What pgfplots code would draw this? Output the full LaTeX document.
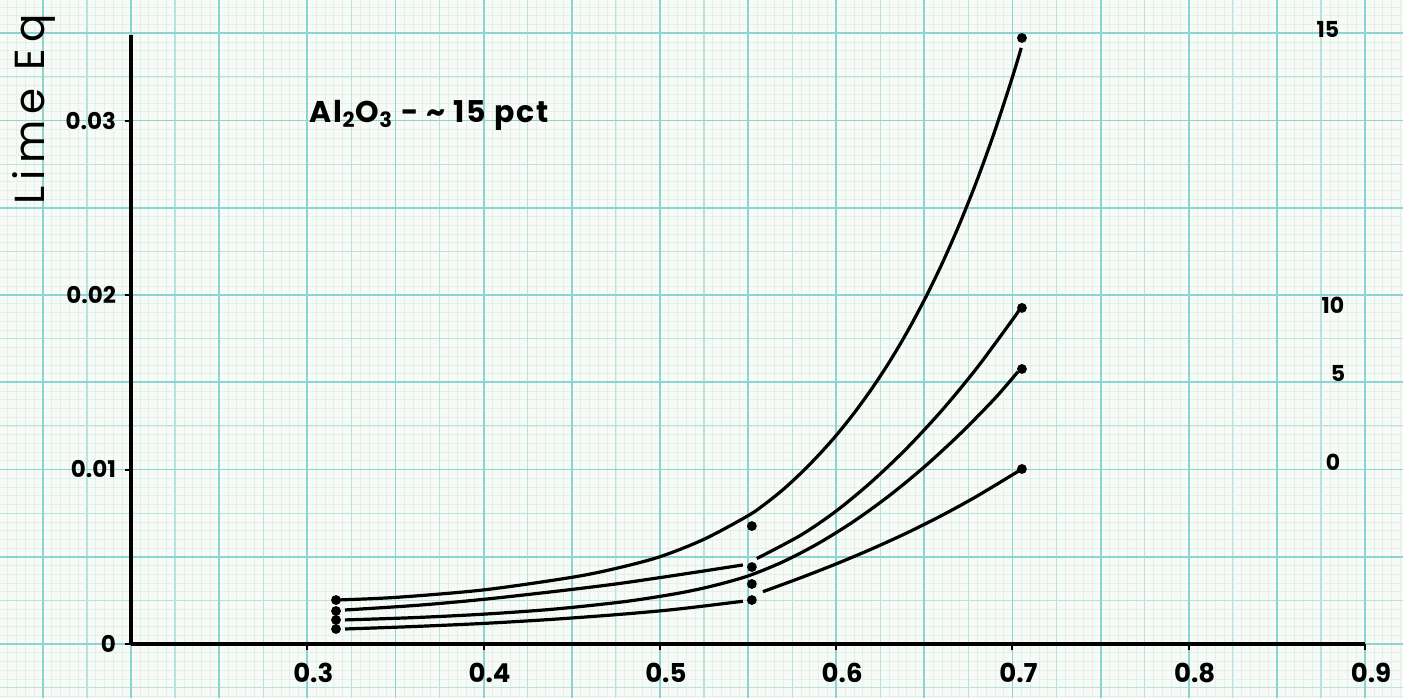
\documentclass[border=0pt]{standalone}
\usepackage{fontspec}
\setmainfont{Poppins}
\usepackage{pgfplots}
\pgfplotsset{compat=1.18}
\definecolor{paper}{RGB}{248,251,245}
\definecolor{gridA}{RGB}{140,212,212}
\definecolor{gridB}{RGB}{182,227,225}
\definecolor{gridC}{RGB}{224,240,236}
\begin{document}
\begin{tikzpicture}
\path[use as bounding box] (-65.5pt,-27pt) rectangle (636pt,322pt);
\clip (-65.5pt,-27pt) rectangle (636pt,322pt);
\fill[paper] (-65.5pt,-27pt) rectangle (636pt,322pt);
\draw[gridC, line width=0.3pt, xstep=4.4075pt, ystep=4.3625pt] (-65.5pt,-27pt) grid (636pt,322pt);
\draw[gridB, line width=0.6pt, xstep=22.0375pt, ystep=21.8125pt] (-65.5pt,-27pt) grid (636pt,322pt);
\draw[gridA, line width=0.9pt, xstep=44.075pt, ystep=43.625pt] (-65.5pt,-27pt) grid (636pt,322pt);
\begin{axis}[
  at={(0,0)}, anchor=south west,
  scale only axis, width=617pt, height=304.5pt,
  xmin=0.2, xmax=0.9, ymin=0, ymax=0.0349,
  axis lines*=left,
  axis line style={line width=1.8pt, black},
  xtick={0.3,0.4,0.5,0.6,0.7,0.8,0.9},
  xticklabels={0.3,0.4,0.5,0.6,0.7,0.8,0.9},
  ytick={0,0.01,0.02,0.03},
  yticklabels={0,0.01,0.02,0.03},
  scaled ticks=false,
  tick align=outside, major tick length=3pt,
  tick style={black, line width=1pt},
  yticklabel style={font=\bfseries\fontsize{11.5}{13}\selectfont, xshift=-1pt},
  xticklabel style={font=\bfseries\fontsize{13}{15}\selectfont, yshift=-3pt, xshift=3pt},
  clip=false,
  every axis plot/.append style={line width=1.6pt},
]
% 15 pct curve
\addplot[black, smooth] coordinates {
 (0.3163,0.00252) (0.35,0.00267) (0.40,0.00310) (0.45,0.00382) (0.475,0.00433)
 (0.50,0.00500) (0.525,0.00600) (0.55,0.00735) (0.56,0.00805) (0.57,0.00886)
 (0.58,0.00979) (0.59,0.01082) (0.60,0.01195) (0.61,0.01321) (0.62,0.01460)
 (0.63,0.01613) (0.64,0.01783) (0.65,0.01971) (0.66,0.02178) (0.67,0.02407)
 (0.68,0.02660) (0.69,0.02940) (0.70,0.03249) (0.705,0.03416)};
% 10 pct curve, two pieces
\addplot[black, smooth] coordinates {
 (0.3214,0.00195) (0.3639,0.00223) (0.4076,0.00264) (0.4757,0.00345) (0.5471,0.00453)};
\addplot[black, smooth] coordinates {
 (0.555,0.00490) (0.58,0.00624) (0.60,0.00762) (0.62,0.00929) (0.64,0.01121)
 (0.66,0.01339) (0.68,0.01584) (0.70,0.01858) (0.7043,0.01920)};
% 5 pct curve
\addplot[black, smooth] coordinates {
 (0.3214,0.00138) (0.36,0.00151) (0.40,0.00171) (0.44,0.00200) (0.48,0.00243)
 (0.51,0.00290) (0.53,0.00333) (0.55,0.00390) (0.57,0.00472) (0.59,0.00577)
 (0.61,0.00703) (0.63,0.00849) (0.65,0.01015) (0.67,0.01201) (0.69,0.01407)
 (0.7031,0.01560)};
% 0 pct curve, two pieces
\addplot[black, smooth] coordinates {
 (0.3214,0.00086) (0.36,0.00100) (0.40,0.00118) (0.44,0.00142) (0.48,0.00172)
 (0.51,0.00200) (0.5471,0.00245)};
\addplot[black, smooth] coordinates {
 (0.5585,0.00300) (0.58,0.00380) (0.60,0.00459) (0.62,0.00544) (0.64,0.00636)
 (0.66,0.00737) (0.68,0.00848) (0.7043,0.00996)};
% data points
\addplot[only marks, mark=*, mark size=1.6pt, black] coordinates {
 (0.3163,0.00252) (0.3163,0.00189) (0.3163,0.00138) (0.3163,0.00086)
 (0.5522,0.00676) (0.5522,0.00441) (0.5522,0.00344) (0.5522,0.00252)
 (0.7054,0.03473) (0.7054,0.01926) (0.7054,0.01576) (0.7054,0.01003)};
\node[anchor=base west, font=\bfseries\fontsize{15}{17}\selectfont] at (axis cs:0.2975,0.02991)
  {\addfontfeatures{LetterSpace=6}Al\textsubscript{2}O\textsubscript{3} - \textasciitilde\ 15 pct};
\node[font=\bfseries\fontsize{11}{13}\selectfont] at (axis cs:0.879,0.03519) {15};
\node[font=\bfseries\fontsize{11}{13}\selectfont] at (axis cs:0.8818,0.01943) {10};
\node[font=\bfseries\fontsize{11}{13}\selectfont] at (axis cs:0.8847,0.01553) {5};
\node[font=\bfseries\fontsize{11}{13}\selectfont] at (axis cs:0.8818,0.01043) {0};
\end{axis}
\node[rotate=90, anchor=base west, font=\fontsize{21}{24}\selectfont] at (-43pt,216pt)
  {\addfontfeatures{LetterSpace=15}Lime Eq};
\end{tikzpicture}
\end{document}
